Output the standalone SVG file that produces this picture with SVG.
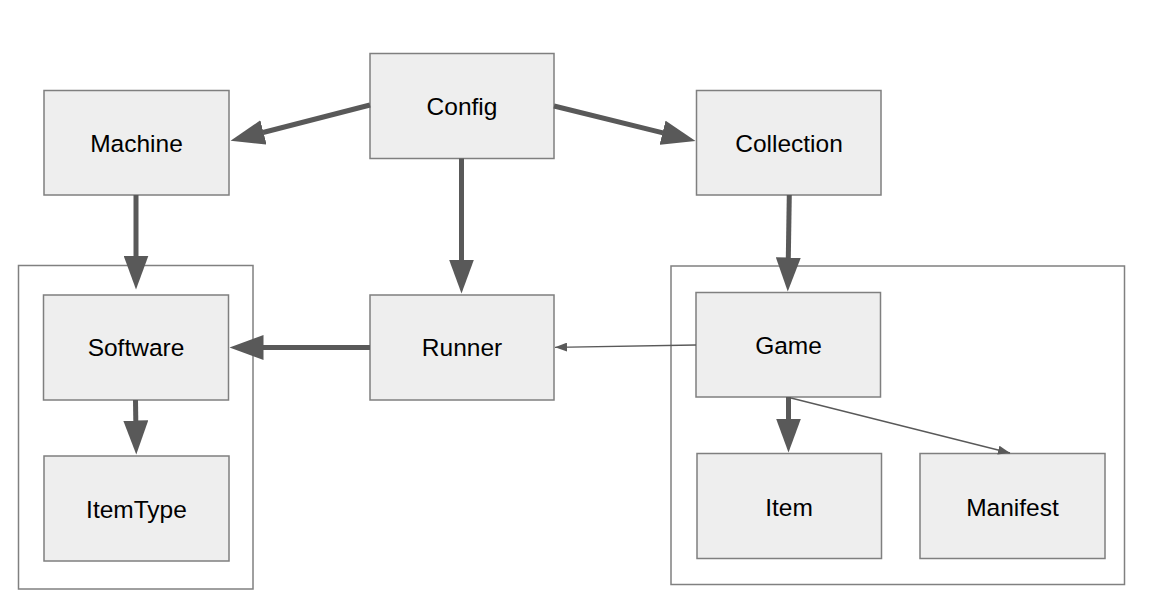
<svg xmlns="http://www.w3.org/2000/svg" width="1150" height="612" viewBox="0 0 1150 612">
  <style>
    .container { fill: none; stroke: #808080; stroke-width: 1.5; }
    .node rect { fill: #eeeeee; stroke: #7f7f7f; stroke-width: 1.5; }
    .node text { font-family: "Liberation Sans", Arial, sans-serif; font-size: 24.5px; fill: #000000; text-anchor: middle; }
    .thick { stroke: #595959; stroke-width: 5; fill: none; }
    .thin { stroke: #595959; stroke-width: 1.3; fill: none; }
  </style>
  <defs>
    <marker id="headThick" markerUnits="userSpaceOnUse" markerWidth="35" markerHeight="25" refX="0.5" refY="12.5" orient="auto">
      <path d="M0,0 L34,12.5 L0,25 Z" fill="#595959"/>
    </marker>
    <marker id="headThin" markerUnits="userSpaceOnUse" markerWidth="12" markerHeight="9" refX="12" refY="4.5" orient="auto">
      <path d="M0,0 L12,4.5 L0,9 Z" fill="#595959"/>
    </marker>
  </defs>
  <rect width="1150" height="612" fill="#ffffff"/>

  <g id="containers">
    <rect id="left-group" class="container" x="18.5" y="265.5" width="234.5" height="323.5"/>
    <rect id="right-group" class="container" x="671" y="266" width="453.5" height="318.5"/>
  </g>

  <g id="node-config" class="node">
    <rect x="370" y="53.5" width="184" height="105"/>
    <text x="462" y="114.5">Config</text>
  </g>
  <g id="node-machine" class="node">
    <rect x="44" y="90.5" width="185" height="104.5"/>
    <text x="136.5" y="151.5">Machine</text>
  </g>
  <g id="node-collection" class="node">
    <rect x="696.5" y="90.5" width="184.5" height="104.5"/>
    <text x="789" y="151.5">Collection</text>
  </g>
  <g id="node-software" class="node">
    <rect x="43.5" y="295" width="185" height="105"/>
    <text x="136" y="356">Software</text>
  </g>
  <g id="node-runner" class="node">
    <rect x="370" y="295" width="184" height="105"/>
    <text x="462" y="356">Runner</text>
  </g>
  <g id="node-itemtype" class="node">
    <rect x="44" y="456" width="185" height="105"/>
    <text x="136.5" y="517.5">ItemType</text>
  </g>
  <g id="node-game" class="node">
    <rect x="696" y="292.5" width="184.5" height="104.5"/>
    <text x="788.5" y="353.5">Game</text>
  </g>
  <g id="node-item" class="node">
    <rect x="697" y="453.5" width="184.5" height="105"/>
    <text x="789" y="515.5">Item</text>
  </g>
  <g id="node-manifest" class="node">
    <rect x="920" y="453.5" width="185" height="105"/>
    <text x="1012.5" y="515.5">Manifest</text>
  </g>

  <g id="connectors">
    <line class="thick" x1="370" y1="105" x2="263" y2="132.5" marker-end="url(#headThick)"/>
    <line class="thick" x1="554" y1="106" x2="663" y2="132.9" marker-end="url(#headThick)"/>
    <line class="thick" x1="461.5" y1="158.5" x2="461.5" y2="260" marker-end="url(#headThick)"/>
    <line class="thick" x1="136" y1="195" x2="136" y2="256" marker-end="url(#headThick)"/>
    <line class="thick" x1="789.3" y1="195" x2="788.3" y2="258" marker-end="url(#headThick)"/>
    <line class="thick" x1="370" y1="347.5" x2="263" y2="347.5" marker-end="url(#headThick)"/>
    <line class="thick" x1="135.5" y1="400" x2="135.8" y2="421" marker-end="url(#headThick)"/>
    <line class="thick" x1="788.5" y1="397" x2="788.5" y2="419" marker-end="url(#headThick)"/>
    <line class="thin" x1="696" y1="345" x2="555" y2="347.3" marker-end="url(#headThin)"/>
    <line class="thin" x1="791" y1="398" x2="1010" y2="453" marker-end="url(#headThin)"/>
  </g>
</svg>
